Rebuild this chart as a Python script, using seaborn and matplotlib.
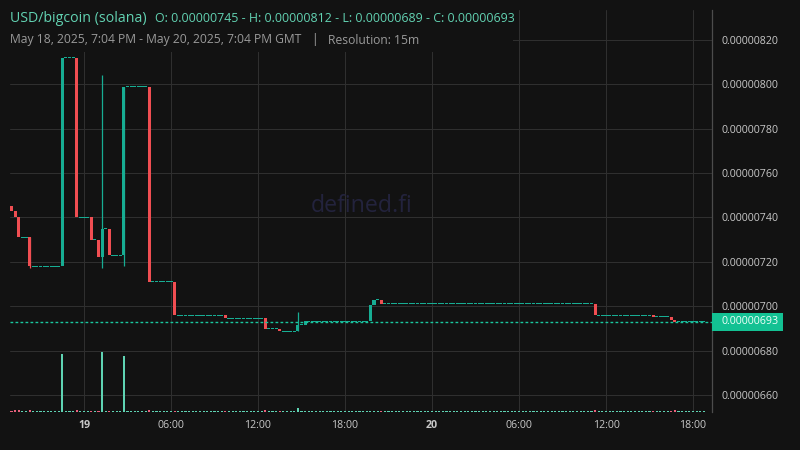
import numpy as np
import pandas as pd
import seaborn as sns
import matplotlib
matplotlib.use("Agg")
import matplotlib.pyplot as plt
import matplotlib.transforms as mtransforms
from matplotlib.patches import Rectangle

# ---------------- data ----------------
title = "USD/bigcoin (solana)"
ohlc_text = "O: 0.00000745 - H: 0.00000812 - L: 0.00000689 - C: 0.00000693"
range_text = "May 18, 2025, 7:04 PM - May 20, 2025, 7:04 PM GMT"
res_text = "Resolution: 15m"
watermark = "defined.fi"

n_candles = 192          # 15-minute candles over 48 h
start_hour = -5.0        # first candle: May 18 19:00 (hours relative to May 19 00:00)
step_hours = 0.25

# candles with price movement (index, open, high, low, close) – prices in 1e-8 units
active_idx = [0, 1, 2, 5, 14, 18, 22, 24, 25, 27, 31, 38, 45, 59, 70, 74, 79, 81, 99, 100, 102, 161, 177, 182, 183]
opens  = [745, 743, 740, 731, 718, 812, 740, 730, 722, 735, 723, 799, 711, 696, 694.5, 689.8, 688.6, 691.6, 693.3, 700.6, 703, 701, 696, 695.3, 693.9]
highs  = [745, 743, 740, 731, 812, 812, 740, 730, 804, 735, 799, 799, 711, 696, 694.5, 689.8, 697.4, 693.3, 700.6, 703, 703, 701, 696, 695.3, 693.9]
lows   = [743, 740, 731, 717, 718, 740, 730, 722, 717, 723, 718, 711, 696, 694.5, 689.8, 688.6, 688.6, 691.6, 693.3, 700.6, 701, 696, 695.3, 693.9, 692.9]
closes = [743, 740, 731, 718, 812, 740, 730, 722, 735, 723, 799, 711, 696, 694.5, 689.8, 688.6, 691.6, 693.3, 700.6, 703, 701, 696, 695.3, 693.9, 692.9]

# volume (arbitrary units); all other candles had ~zero volume
vol_idx = [1, 2, 5, 14, 18, 25, 31, 38, 70, 79, 161, 183]
vol_val = [1.6, 1.6, 1.6, 58, 1.6, 60, 56, 1.6, 1.6, 4, 1.6, 1.6]

x_tick_hours = [0, 6, 12, 18, 24, 30, 36, 42]
x_tick_labels = ["19", "06:00", "12:00", "18:00", "20", "06:00", "12:00", "18:00"]
y_ticks = [660, 680, 700, 720, 740, 760, 780, 800, 820]

# ---------------- build full candle table ----------------
rows = []
prev = opens[0]
act = {i: (o, h, l, c) for i, o, h, l, c in zip(active_idx, opens, highs, lows, closes)}
vol = dict(zip(vol_idx, vol_val))
for i in range(n_candles):
    if i in act:
        o, h, l, c = act[i]
    else:
        o = h = l = c = prev
    rows.append(dict(t=start_hour + i * step_hours, o=o, h=h, l=l, c=c, v=vol.get(i, 0.0)))
    prev = c
df = pd.DataFrame(rows)
df["up"] = df["c"] >= df["o"]

# ---------------- style ----------------
BG = "#121212"
GRID = "#2f2f2f"
UP = "#17ad93"
DOWN = "#f04e52"
VUP = "#5fd3b3"
VDOWN = "#e8607c"
TEAL_TXT = "#62d2b2"

sns.set_theme(style="dark", rc={
    "axes.facecolor": BG, "figure.facecolor": BG, "savefig.facecolor": BG,
    "grid.color": GRID, "grid.linewidth": 0.75, "axes.grid": True,
})
plt.rcParams["font.family"] = ["Open Sans", "DejaVu Sans"]

W, H = 800, 450
fig = plt.figure(figsize=(8, 4.5), dpi=100)
ax = fig.add_axes([10 / W, 38 / H, 702 / W, 402 / H])

px_per_unit = 44.375 / 20.0
ylo, yhi = 652.3, 833.5
xlo, xhi = -5.103, 43.31
ax.set_xlim(xlo, xhi)
ax.set_ylim(ylo, yhi)

# watermark
fig.text(361.5 / W, 1 - 206 / H, watermark, color="#23233d", fontsize=16.7,
         ha="center", va="center", zorder=0.5)

# candles
min_h = 1.0 / px_per_unit
body_w = 0.21
body_bottom = np.minimum(df["o"], df["c"])
body_height = np.abs(df["c"] - df["o"])
flat = body_height < min_h
body_bottom = np.where(flat, df["c"] - min_h / 2, body_bottom)
body_height = np.where(flat, min_h, body_height)
colors = np.where(df["up"], UP, DOWN)

wick = (df["h"] > np.maximum(df["o"], df["c"])) | (df["l"] < np.minimum(df["o"], df["c"]))
ax.vlines(df.loc[wick, "t"], df.loc[wick, "l"], df.loc[wick, "h"],
          colors=colors[wick.values], linewidth=0.9, zorder=3)
ax.bar(df["t"], body_height, bottom=body_bottom, width=body_w, color=colors,
       linewidth=0, zorder=4)

# last price line
last = df["c"].iloc[-1]
ax.axhline(last, color="#19c79e", linewidth=1.0, linestyle=(0, (2, 1.6)), zorder=5)

# volume on twin axis
ax2 = ax.twinx()
ax2.set_ylim(0, 402)
vh = np.maximum(df["v"], 1.0)
ax2.bar(df["t"], vh, width=0.14, color=np.where(df["up"], VUP, VDOWN), linewidth=0, zorder=2)
ax2.set_yticks([])
ax2.grid(False)
for s in ax2.spines.values():
    s.set_visible(False)
ax2.set_xlim(xlo, xhi)

# axes styling
ax.set_xticks(x_tick_hours)
ax.set_xticklabels(x_tick_labels)
for lbl in ax.get_xticklabels():
    if lbl.get_text() in ("19", "20"):
        lbl.set_fontweight("bold")
        lbl.set_color("#e0e0e0")
ax.set_yticks(y_ticks)
ax.set_yticklabels([f"{v / 1e8:.8f}" for v in y_ticks])
ax.yaxis.tick_right()
ax.tick_params(axis="y", length=0, pad=7, labelsize=7.7, labelcolor="#c8c8c8")
ax.tick_params(axis="x", length=0, pad=6, labelsize=7.7, labelcolor="#c8c8c8")
ax.grid(True, color=GRID, linewidth=0.75)
for k in ("top", "left", "bottom"):
    ax.spines[k].set_visible(False)
ax.spines["right"].set_visible(True)
ax.spines["right"].set_color("#4c4c4c")
ax.spines["right"].set_linewidth(0.9)

# price label at right axis
blend = mtransforms.blended_transform_factory(ax.transAxes, ax.transData)
box_h = 18 / px_per_unit
ax.add_patch(Rectangle((1.0, last - box_h / 2), 71 / 702, box_h, transform=blend,
                       facecolor="#13c193", edgecolor="none", clip_on=False, zorder=10))
ax.text(1.0 + 10 / 702, last, f"{last / 1e8:.8f}", transform=blend, ha="left", va="center",
        fontsize=7.7, color="#f0fffa", clip_on=False, zorder=11)

# header (covers the grid behind it)
fig.add_artist(Rectangle((0, 1 - 52 / H), 513 / W, 52 / H, transform=fig.transFigure,
                         facecolor=BG, edgecolor="none", zorder=5))
fig.text(10 / W, 1 - 19 / H, title, fontsize=10.2, color=TEAL_TXT, va="center", zorder=6)
fig.text(155 / W, 1 - 19 / H, ohlc_text, fontsize=8.9, color=TEAL_TXT, va="center", zorder=6)
fig.text(10 / W, 1 - 40 / H, range_text, fontsize=8.75, color="#9a9a9a", va="center", zorder=6)
fig.text(314 / W, 1 - 40 / H, "|", fontsize=8.75, color="#9a9a9a", va="center", ha="center", zorder=6)
fig.text(328 / W, 1 - 40 / H, res_text, fontsize=8.75, color="#9a9a9a", va="center", zorder=6)

fig.savefig("out.png", dpi=100, facecolor=BG)
